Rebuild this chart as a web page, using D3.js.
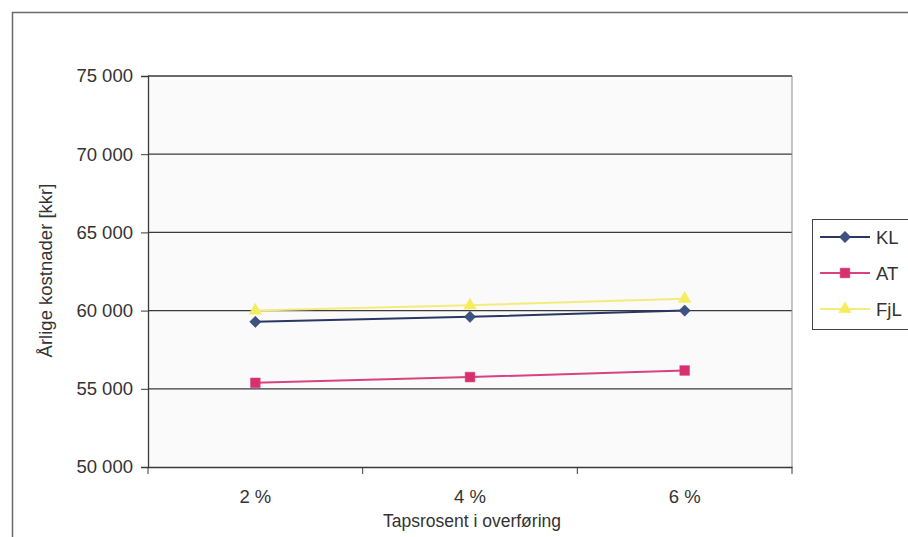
<!DOCTYPE html>
<html>
<head>
<meta charset="utf-8">
<script src="https://cdn.jsdelivr.net/npm/d3@7"></script>
<style>
  html, body { margin: 0; padding: 0; background: #ffffff; }
  svg { display: block; font-family: "Liberation Sans", Arial, sans-serif; }
</style>
</head>
<body>
<svg id="chart" width="908" height="537"></svg>
<script>
// Annual costs by transmission loss percentage
const categories = ["2 %", "4 %", "6 %"];
const seriesNames = ["KL", "AT", "FjL"];
const valuesKL  = [59280, 59600, 60000];
const valuesAT  = [55380, 55750, 56170];
const valuesFjL = [60000, 60340, 60760];
const yTicks = [50000, 55000, 60000, 65000, 70000, 75000];

const diamond = { draw(ctx, size) { const r = Math.sqrt(size) / 2 * 1.3; ctx.moveTo(0, -r); ctx.lineTo(r, 0); ctx.lineTo(0, r); ctx.lineTo(-r, 0); ctx.closePath(); } };

const series = [
  { name: seriesNames[0], values: valuesKL,  line: "#2a3663", fill: "#3b5283", symbol: diamond,          size: 75 },
  { name: seriesNames[1], values: valuesAT,  line: "#d8427f", fill: "#d8306f", symbol: d3.symbolSquare,  size: 95 },
  { name: seriesNames[2], values: valuesFjL, line: "#f3ec7c", fill: "#f4ee5c", symbol: d3.symbolTriangle, size: 70 }
];

const svg = d3.select("#chart");
const plot = { left: 148, right: 792, top: 76, bottom: 467 };
const textColor = "#333";

// outer chart frame
svg.append("path")
  .attr("d", "M12.5,540 L12.5,12.5 L912,12.5")
  .attr("fill", "none").attr("stroke", "#6a6a6a").attr("stroke-width", 1.5);

// plot area background
svg.append("rect")
  .attr("x", plot.left).attr("y", plot.top)
  .attr("width", plot.right - plot.left).attr("height", plot.bottom - plot.top)
  .attr("fill", "#fafafa");

const x = d3.scaleBand().domain(categories).range([plot.left, plot.right]);
const y = d3.scaleLinear().domain([50000, 75000]).range([plot.bottom, plot.top]);

const fmt = v => d3.format(",")(v).replace(/,/g, " ");

// horizontal gridlines
svg.append("g").selectAll("line").data(yTicks.slice(1)).join("line")
  .attr("x1", plot.left).attr("x2", plot.right)
  .attr("y1", d => y(d)).attr("y2", d => y(d))
  .attr("stroke", "#3a3a3a").attr("stroke-width", 1.3);

// right border of plot area
svg.append("line")
  .attr("x1", plot.right).attr("x2", plot.right)
  .attr("y1", plot.top).attr("y2", plot.bottom)
  .attr("stroke", "#8a8a8a").attr("stroke-width", 1);

// y axis
const yAxis = svg.append("g")
  .attr("transform", `translate(${plot.left},0)`)
  .call(d3.axisLeft(y).tickValues(yTicks).tickFormat(fmt).tickSize(7).tickPadding(8));
yAxis.select(".domain").attr("stroke", "#3a3a3a").attr("stroke-width", 1.3);
yAxis.selectAll(".tick line").attr("stroke", "#3a3a3a");
yAxis.selectAll("text").attr("font-size", 18.5).attr("fill", textColor)
  .attr("font-family", "'Liberation Sans', Arial, sans-serif");

// x axis
const xAxis = svg.append("g")
  .attr("transform", `translate(0,${plot.bottom})`)
  .call(d3.axisBottom(x).tickSize(0).tickPadding(23));
xAxis.select(".domain").attr("stroke", "#3a3a3a").attr("stroke-width", 1.6);
xAxis.selectAll("text").attr("font-size", 18.5).attr("fill", textColor)
  .attr("font-family", "'Liberation Sans', Arial, sans-serif");
// category boundary ticks
const bounds = categories.map(c => x(c)).concat([x(categories[categories.length - 1]) + x.bandwidth()]);
svg.append("g").selectAll("line").data(bounds).join("line")
  .attr("x1", d => d).attr("x2", d => d)
  .attr("y1", plot.bottom).attr("y2", plot.bottom + 7)
  .attr("stroke", "#3a3a3a");

// axis titles
svg.append("text")
  .attr("transform", `translate(52,${(plot.top + plot.bottom) / 2 - 1}) rotate(-90)`)
  .attr("text-anchor", "middle").attr("font-size", 18.5).attr("fill", textColor)
  .text("Årlige kostnader [kkr]");
svg.append("text")
  .attr("x", (plot.left + plot.right) / 2 + 2).attr("y", 527)
  .attr("text-anchor", "middle").attr("font-size", 17.5).attr("fill", textColor)
  .text("Tapsrosent i overføring");

// series lines and markers
const cx = c => x(c) + x.bandwidth() / 2;
const line = d3.line().x(d => cx(d.c)).y(d => y(d.v));
series.forEach(s => {
  const pts = categories.map((c, i) => ({ c, v: s.values[i] }));
  svg.append("path").datum(pts)
    .attr("d", line).attr("fill", "none")
    .attr("stroke", s.line).attr("stroke-width", 2);
  svg.append("g").selectAll("path").data(pts).join("path")
    .attr("transform", d => `translate(${cx(d.c)},${y(d.v)})`)
    .attr("d", d3.symbol().type(s.symbol).size(s.size))
    .attr("fill", s.fill).attr("stroke", s.line).attr("stroke-width", 0.5);
});

// legend
const lg = svg.append("g").attr("transform", "translate(812,219)");
lg.append("rect").attr("x", 0.5).attr("y", 0.5).attr("width", 110).attr("height", 110)
  .attr("fill", "#ffffff").attr("stroke", "#444").attr("stroke-width", 1);
series.forEach((s, i) => {
  const yy = 18 + i * 36;
  lg.append("line").attr("x1", 8).attr("x2", 58).attr("y1", yy).attr("y2", yy)
    .attr("stroke", s.line).attr("stroke-width", 2);
  lg.append("path").attr("transform", `translate(33,${yy})`)
    .attr("d", d3.symbol().type(s.symbol).size(s.size))
    .attr("fill", s.fill).attr("stroke", s.line).attr("stroke-width", 0.5);
  lg.append("text").attr("x", 64).attr("y", yy + 7)
    .attr("font-size", 18.5).attr("fill", textColor).text(s.name);
});
</script>
</body>
</html>
